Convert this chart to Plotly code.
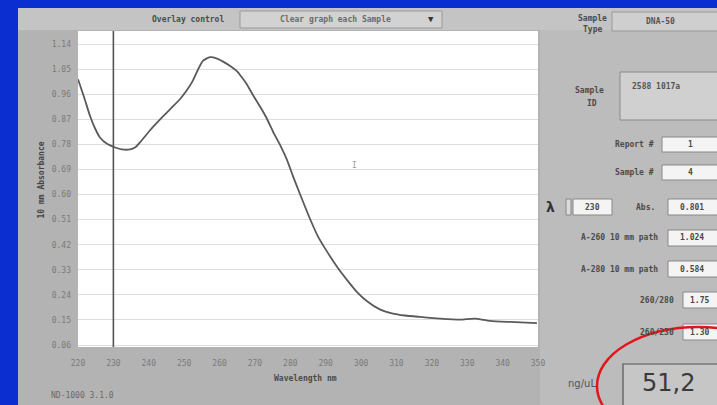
import plotly.graph_objects as go

# ---- data ----
wavelength_nm = [220.0, 221.7, 223.4, 224.8, 226.2, 228.2, 230.5, 232.4, 234.7, 236.1,
                 237.5, 240.3, 243.2, 246.0, 248.8, 250.8, 252.5, 253.9, 255.3, 257.3,
                 259.3, 261.0, 262.9, 264.9, 266.3, 267.7, 269.4, 271.4, 273.4, 275.1,
                 277.1, 279.0, 280.7, 282.7, 285.5, 287.8, 290.3, 293.2, 296.0, 298.8,
                 301.6, 305.3, 308.7, 312.4, 316.6, 322.3, 327.9, 332.1, 336.4, 342.0, 349.7]
absorbance = [1.014, 0.950, 0.882, 0.838, 0.805, 0.782, 0.769, 0.762, 0.762, 0.769,
              0.787, 0.830, 0.870, 0.906, 0.942, 0.975, 1.010, 1.048, 1.080, 1.093,
              1.088, 1.077, 1.062, 1.043, 1.021, 0.996, 0.958, 0.917, 0.872, 0.826,
              0.778, 0.726, 0.668, 0.603, 0.515, 0.450, 0.397, 0.341, 0.294, 0.251,
              0.218, 0.188, 0.174, 0.166, 0.161, 0.155, 0.151, 0.155, 0.147, 0.143, 0.139]
cursor_nm = [230]
x_ticks = [220, 230, 240, 250, 260, 270, 280, 290, 300, 310, 320, 330, 340, 350]
y_ticks = [1.14, 1.05, 0.96, 0.87, 0.78, 0.69, 0.60, 0.51, 0.42, 0.33, 0.24, 0.15, 0.06]
y_tick_text = ["%.2f" % v for v in y_ticks]

# readouts
sample_type = "DNA-50"
sample_id = "2588 1017a"
report_no = "1"
sample_no = "4"
lambda_val = "230"
abs_val = "0.801"
a260 = "1.024"
a280 = "0.584"
r260_280 = "1.75"
r260_230 = "1.30"
conc = "51,2"

# ---- layout helpers (pixel -> paper) ----
W, H = 717, 405
L, R, T, B = 78, 538, 31, 347
def px(x): return (x - L) / (R - L)
def py(y): return (B - y) / (B - T)

fig = go.Figure()
fig.add_trace(go.Scatter(x=wavelength_nm, y=absorbance, mode="lines",
                         line=dict(color="#5a5a5a", width=1.8, shape="spline", smoothing=0.6),
                         hoverinfo="skip", showlegend=False))

shapes = []
def rect(x0, y0, x1, y1, fill, line=None, lw=0, layer="below"):
    shapes.append(dict(type="rect", xref="paper", yref="paper",
                       x0=px(x0), x1=px(x1), y0=py(y1), y1=py(y0),
                       fillcolor=fill, line=dict(color=line or fill, width=lw), layer=layer))

# grey panel + lighter zones
rect(18, 8, 720, 410, "#b3b3b3")
rect(18, 8, 720, 30, "#c4c4c4")
rect(540, 30, 720, 410, "#bcbcbc")
# white plot area
rect(L, T, R, B, "#ffffff")
# dropdown
rect(240, 11, 442, 28, "#d2d2d2", "#9a9a9a", 1)
rect(612, 12, 720, 31, "#cfcfcf", "#999999", 1)
# sample id box
rect(620, 72, 720, 120, "#d0d0d0", "#8a8a8a", 1)
# white readout boxes
rect(662, 137, 720, 152, "#f4f4f4", "#888888", 1, "above")
rect(662, 165, 720, 180, "#f4f4f4", "#888888", 1, "above")
rect(573, 199, 612, 215, "#f4f4f4", "#888888", 1, "above")
rect(566, 199, 571, 215, "#dcdcdc", "#888888", 1, "above")
rect(668, 199, 720, 215, "#f4f4f4", "#888888", 1, "above")
rect(668, 230, 720, 246, "#f4f4f4", "#888888", 1, "above")
rect(668, 261, 720, 277, "#f4f4f4", "#888888", 1, "above")
rect(683, 292, 720, 308, "#f4f4f4", "#888888", 1, "above")
rect(683, 324, 720, 340, "#f4f4f4", "#888888", 1, "above")
rect(623, 364, 720, 410, "#c6c6c6", "#555555", 1.2, "above")

# cursor line
shapes.append(dict(type="line", xref="x", yref="paper", x0=cursor_nm[0], x1=cursor_nm[0],
                   y0=0, y1=1, line=dict(color="#555555", width=1.6), layer="above"))
# red ellipse
shapes.append(dict(type="circle", xref="paper", yref="paper",
                   x0=px(597), x1=px(800), y0=py(445), y1=py(327),
                   line=dict(color="#e3141c", width=2.5), layer="above"))

ann = []
FONT = "DejaVu Sans Mono"
def text(x, y, s, size=8, color="#4a4a4a", xanchor="center", bold=True, fam=FONT):
    ann.append(dict(x=px(x), y=py(y), xref="paper", yref="paper", text=("<b>%s</b>" % s) if bold else s,
                    showarrow=False, xanchor=xanchor, yanchor="middle",
                    font=dict(size=size, color=color, family=fam)))

text(188, 19, "Overlay control")
text(335, 19, "Clear graph each Sample", color="#6a6a6a")
text(431, 19, "▼", size=9, color="#333333")
text(592, 18, "Sample")
text(592, 30, "Type")
text(660, 21, sample_type, color="#555555")
text(606, 90, "Sample", xanchor="right")
text(592, 103, "ID")
text(630, 86, sample_id, xanchor="left", color="#555555")
text(656, 144, "Report #", xanchor="right")
text(656, 172, "Sample #", xanchor="right")
text(690, 144, report_no)
text(690, 172, sample_no)
text(550, 207, "λ", size=14, color="#333333", fam="DejaVu Sans")
text(592, 207, lambda_val)
text(645, 207, "Abs.")
text(692, 207, abs_val)
text(660, 238, "A-260 10 mm path", xanchor="right")
text(692, 238, a260)
text(660, 269, "A-280 10 mm path", xanchor="right")
text(692, 269, a280)
text(676, 300, "260/280", xanchor="right")
text(699, 300, r260_280)
text(676, 332, "260/230", xanchor="right")
text(699, 332, r260_230)
text(582, 383, "ng/uL", size=10, color="#555555", bold=False, fam="DejaVu Sans")
text(668, 383, conc, size=24, color="#3a3a3a", bold=False, fam="DejaVu Sans")
text(305, 378, "Wavelength nm")
text(82, 395, "ND-1000 3.1.0", color="#6a6a6a", bold=False)
ann.append(dict(x=px(34), y=py(180), xref="paper", yref="paper", text="<b>10 mm Absorbance</b>",
                textangle=-90, showarrow=False, font=dict(size=8, color="#444444", family=FONT)))
text(354, 165, "I", size=8, color="#9a9a9a", bold=False)

fig.update_layout(
    width=W, height=H,
    margin=dict(l=L, r=W - R, t=T, b=H - B, pad=0),
    paper_bgcolor="#0a2ecf", plot_bgcolor="#ffffff",
    shapes=shapes, annotations=ann, showlegend=False,
    xaxis=dict(range=[220, 350], tickvals=x_ticks, showgrid=False, zeroline=False,
               ticks="", ticklabelstandoff=10, showline=False,
               tickfont=dict(size=8, color="#7a7a7a", family=FONT)),
    yaxis=dict(range=[0.053, 1.187], tickvals=y_ticks, ticktext=y_tick_text,
               showgrid=True, gridcolor="#dedede", gridwidth=1, zeroline=False,
               ticks="", ticklabelstandoff=6, showline=False,
               tickfont=dict(size=8, color="#7a7a7a", family=FONT)),
)
fig.write_html("out.html", config={"displayModeBar": False},
               post_script="document.body.style.margin='0';")
